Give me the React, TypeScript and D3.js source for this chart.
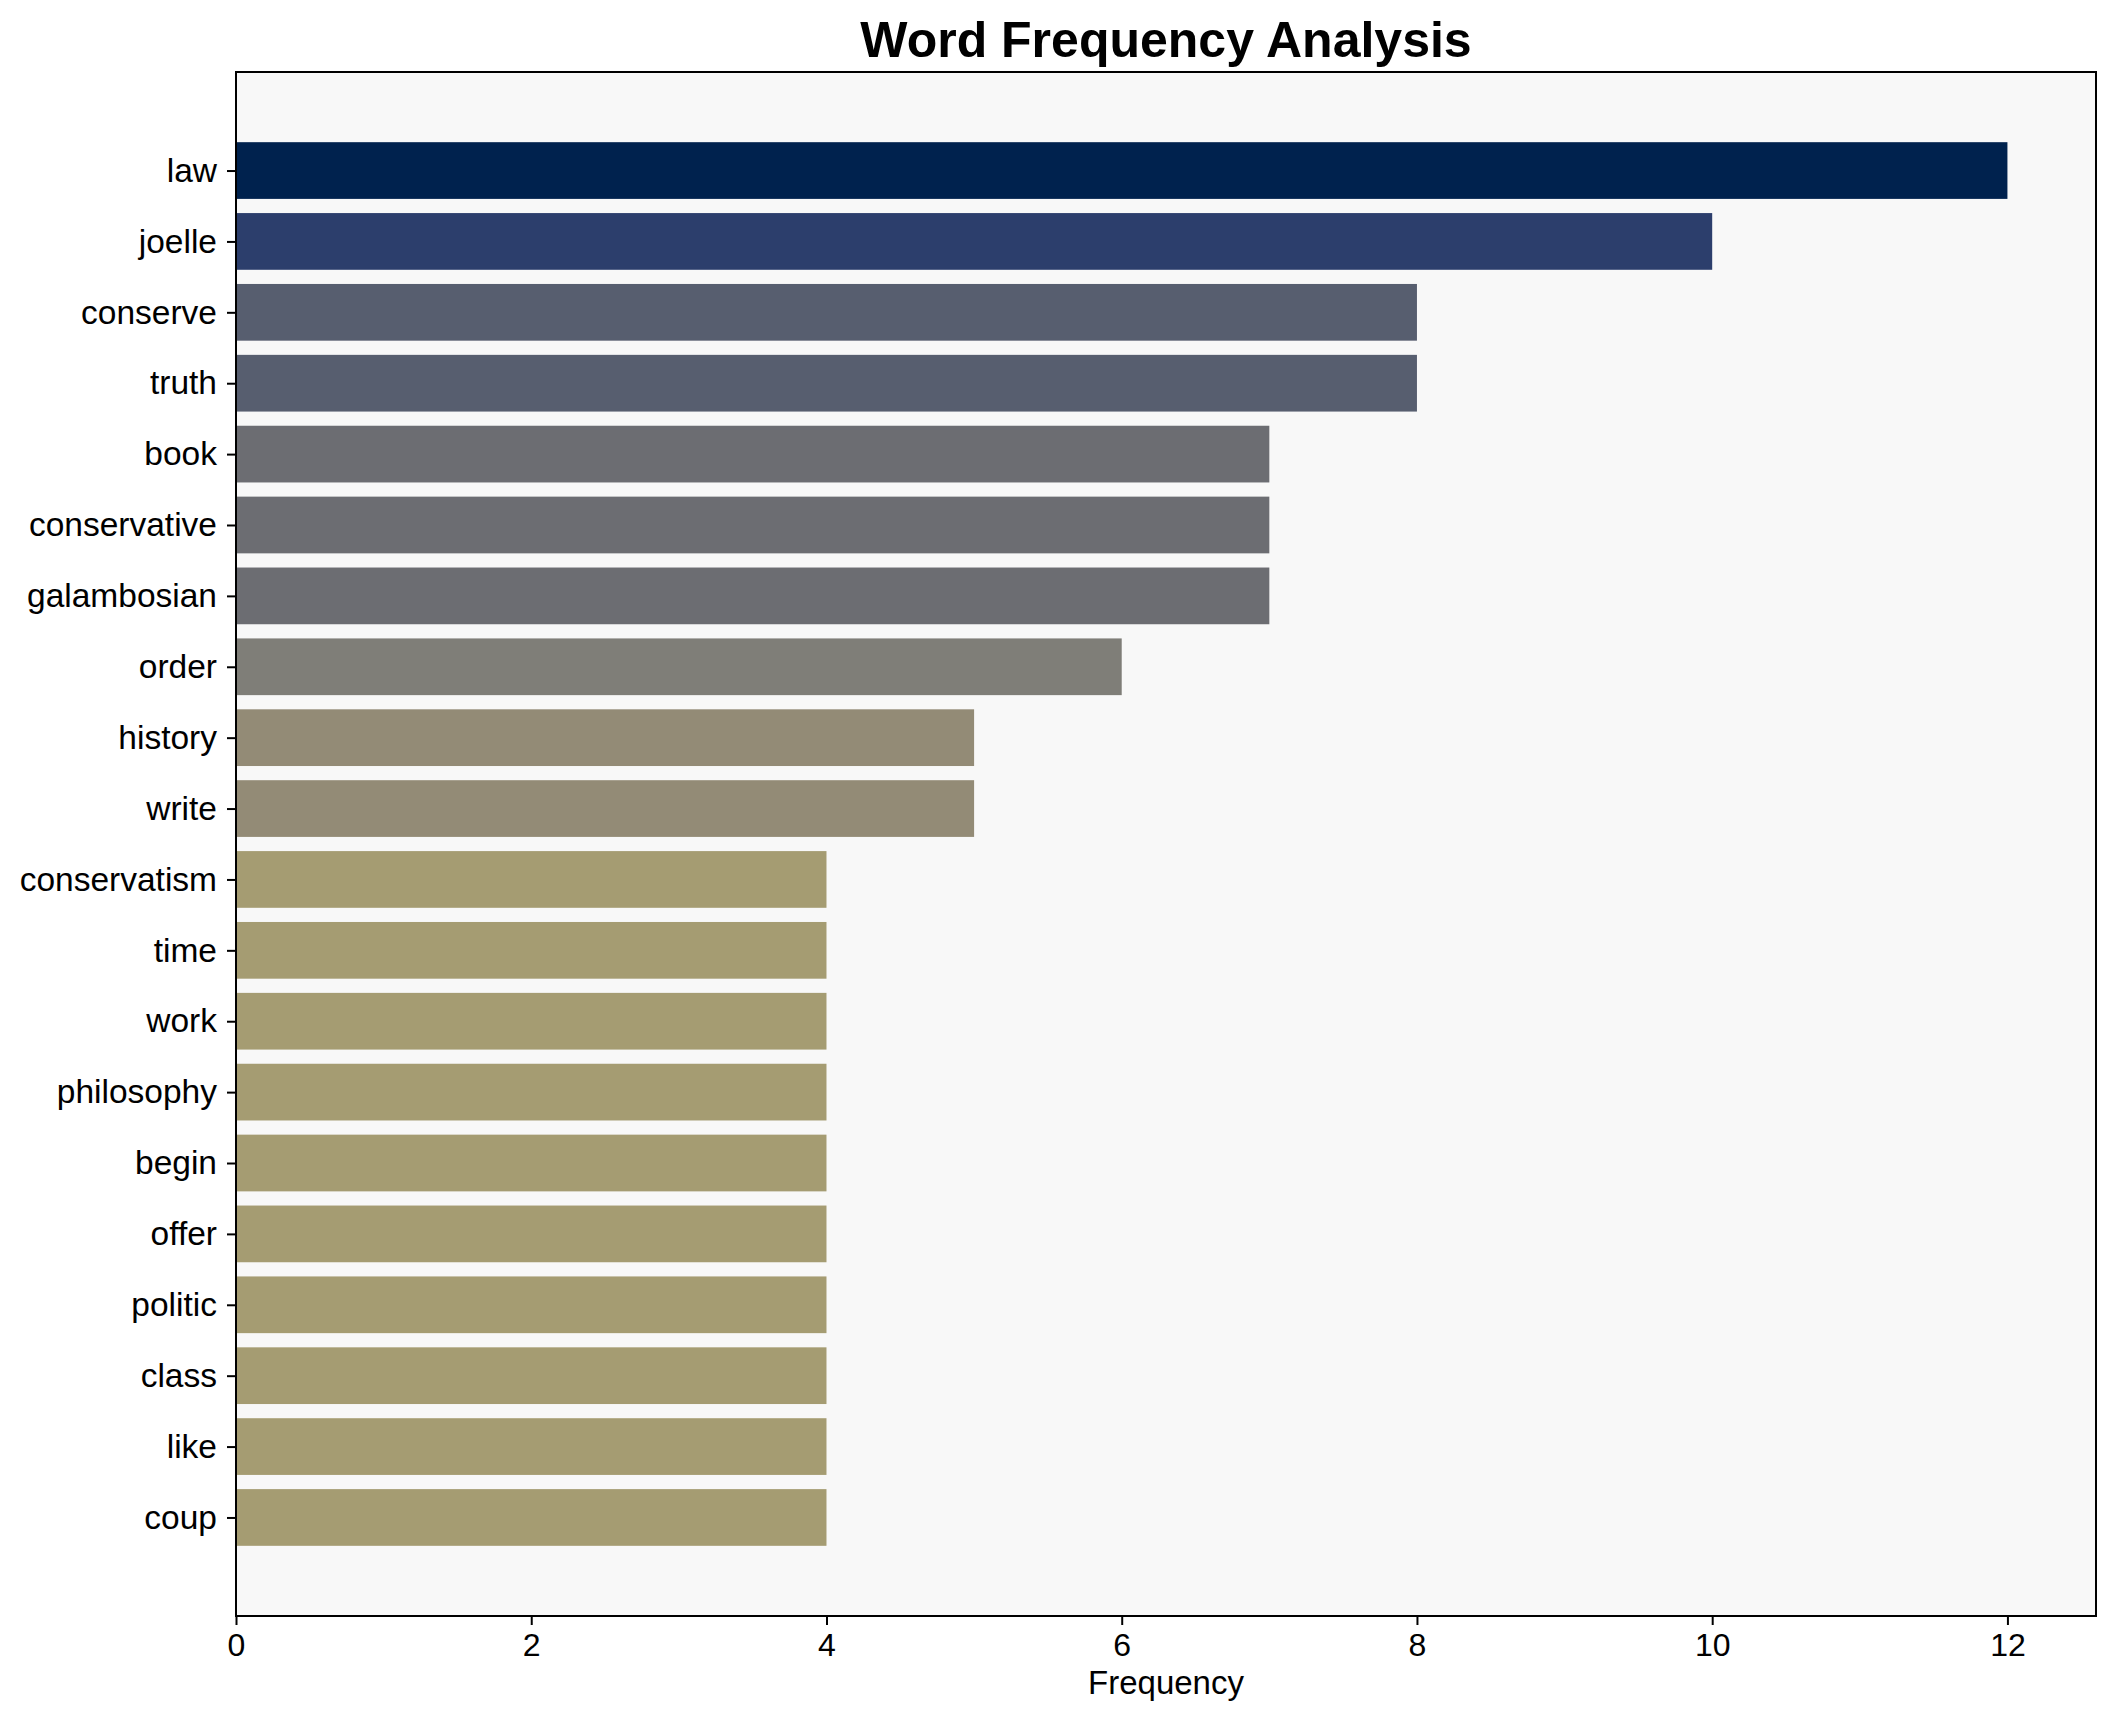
import React, { useEffect, useRef } from 'react';
import * as d3 from 'd3';

// word counts, top 20, most frequent first
const words = [
  'law', 'joelle', 'conserve', 'truth', 'book', 'conservative', 'galambosian',
  'order', 'history', 'write', 'conservatism', 'time', 'work', 'philosophy',
  'begin', 'offer', 'politic', 'class', 'like', 'coup',
];
const counts = [12, 10, 8, 8, 7, 7, 7, 6, 5, 5, 4, 4, 4, 4, 4, 4, 4, 4, 4, 4];
const xTicks = [0, 2, 4, 6, 8, 10, 12];

// cividis-like ramp (reversed)
const colorStops = [4, 5, 6, 7, 8, 10, 12];
const colorValues = ['#a59c72', '#938b76', '#7f7e78', '#6c6d72', '#575e6f', '#2c3e6c', '#00224e'];

const WIDTH = 2115;
const HEIGHT = 1722;

export default function App() {
  const ref = useRef<SVGSVGElement>(null);

  useEffect(() => {
    document.body.style.margin = '0';
    render();
  }, []);

  const render = () => {
    const margin = { top: 72, right: 19, bottom: 106, left: 236 };
    const w = WIDTH - margin.left - margin.right;
    const h = HEIGHT - margin.top - margin.bottom;
    const font = '"Liberation Sans", Arial, sans-serif';

    const svg = d3.select(ref.current);
    svg.selectAll('*').remove();
    svg.append('rect').attr('width', WIDTH).attr('height', HEIGHT).attr('fill', '#ffffff');

    const g = svg.append('g').attr('transform', `translate(${margin.left},${margin.top})`);

    // matplotlib-like limits: sticky 0 on the left, 5% margin on the right
    const maxCount = d3.max(counts)!;
    const x = d3.scaleLinear().domain([0, maxCount * 1.05]).range([0, w]);
    const barH = 0.8;
    const pad = (words.length - 1 + barH) * 0.05;
    const y = d3
      .scaleLinear()
      .domain([-barH / 2 - pad, words.length - 1 + barH / 2 + pad])
      .range([0, h]);

    const color = d3.scaleLinear<string>().domain(colorStops).range(colorValues);

    g.append('rect').attr('width', w).attr('height', h).attr('fill', '#f8f8f8');

    g.selectAll('.bar')
      .data(words)
      .enter()
      .append('rect')
      .attr('class', 'bar')
      .attr('x', x(0))
      .attr('y', (d, i) => y(i - barH / 2))
      .attr('width', (d, i) => x(counts[i]) - x(0))
      .attr('height', y(barH) - y(0))
      .attr('fill', (d, i) => color(counts[i]));

    // x axis
    const xAxis = d3
      .axisBottom(x)
      .tickValues(xTicks)
      .tickFormat((v: any) => `${v}`)
      .tickSize(9)
      .tickPadding(8)
      .tickSizeOuter(0);
    const gx = g.append('g').attr('transform', `translate(0,${h})`).call(xAxis);
    gx.select('.domain').remove();
    gx.selectAll('line').attr('stroke', '#000').attr('stroke-width', 2);
    gx.selectAll('text')
      .attr('font-family', font)
      .attr('font-size', 32)
      .attr('fill', '#000');

    // y axis
    const yAxis = d3
      .axisLeft(y)
      .tickValues(words.map((d, i) => i))
      .tickFormat((v: any) => words[v])
      .tickSize(9)
      .tickPadding(10)
      .tickSizeOuter(0);
    const gy = g.append('g').call(yAxis);
    gy.select('.domain').remove();
    gy.selectAll('line').attr('stroke', '#000').attr('stroke-width', 2);
    gy.selectAll('text')
      .attr('font-family', font)
      .attr('font-size', 33.5)
      .attr('fill', '#000');

    // frame
    g.append('rect')
      .attr('width', w)
      .attr('height', h)
      .attr('fill', 'none')
      .attr('stroke', '#000')
      .attr('stroke-width', 2);

    svg.append('text')
      .attr('x', margin.left + w / 2)
      .attr('y', 1694)
      .attr('text-anchor', 'middle')
      .attr('font-family', font)
      .attr('font-size', 33)
      .text('Frequency');

    svg.append('text')
      .attr('x', margin.left + w / 2)
      .attr('y', 57)
      .attr('text-anchor', 'middle')
      .attr('font-family', font)
      .attr('font-size', 50)
      .attr('font-weight', 'bold')
      .text('Word Frequency Analysis');
  };

  return <svg ref={ref} width={WIDTH} height={HEIGHT} style={{ display: 'block' }} />;
}
